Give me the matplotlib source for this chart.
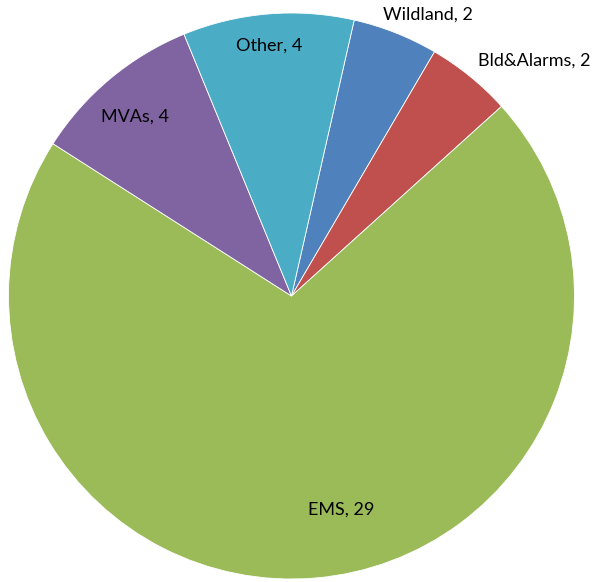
import matplotlib.pyplot as plt

# slice data, clockwise from the Wildland slice
categories = ['Wildland', 'Bld&Alarms', 'EMS', 'MVAs', 'Other']
values = [2, 2, 29, 4, 4]
colors = ['#4F81BD', '#C0504D', '#9BBB59', '#8064A2', '#4BACC6']

# label centres in axes data coords (pie radius = 1)
label_pos = [(0.482, 0.993), (0.859, 0.830), (0.175, -0.756),
             (-0.553, 0.633), (-0.078, 0.883)]

fig = plt.figure(figsize=(5.97, 5.82), dpi=100)
cx, cy, R = 291.5, 296, 283
ax = fig.add_axes([(cx - R) / 597, (582 - cy - R) / 582, 2 * R / 597, 2 * R / 582])

ax.pie(values, colors=colors, startangle=77.2, counterclock=False,
       wedgeprops=dict(edgecolor='white', linewidth=0.6))
ax.set_xlim(-1, 1)
ax.set_ylim(-1, 1)
ax.set_aspect('auto')
ax.axis('off')

for cat, val, (x, y) in zip(categories, values, label_pos):
    ax.text(x, y, f'{cat}, {val}', ha='center', va='center',
            fontsize=13, family='Lato', color='black')

fig.savefig('out.png', dpi=100)
